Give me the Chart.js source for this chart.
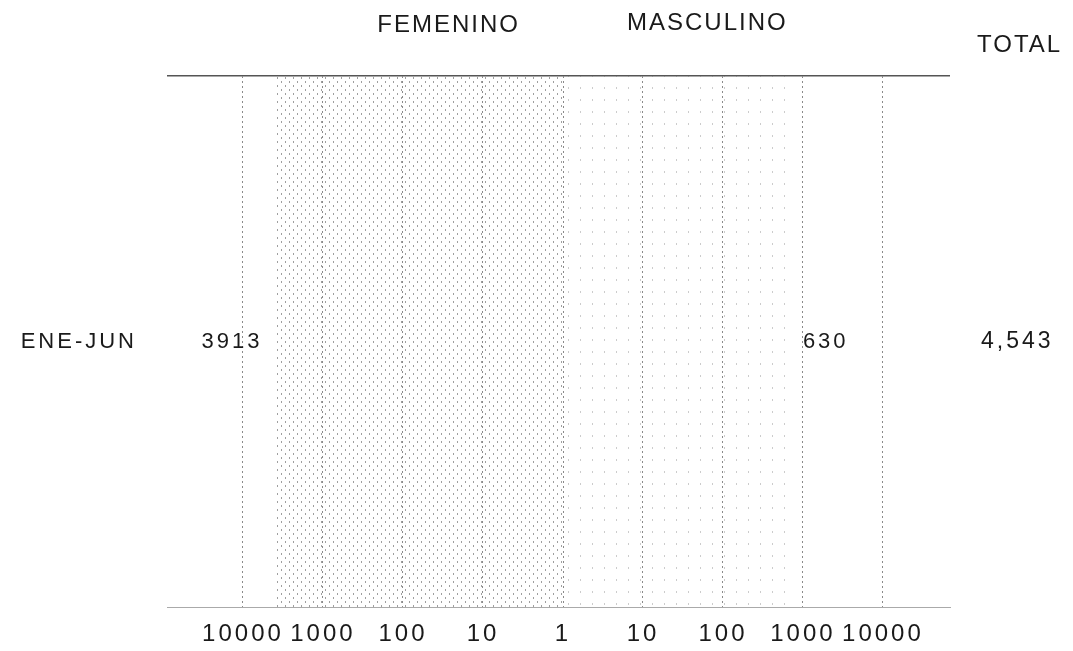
<!DOCTYPE html>
<html>
<head>
<meta charset="utf-8">
<title>ENE-JUN</title>
<script src="https://cdn.jsdelivr.net/npm/chart.js@4.4.1/dist/chart.umd.min.js"></script>
<style>
    html, body { margin: 0; padding: 0; background: #fff; }
    #wrap { position: relative; width: 1073px; height: 651px; }
</style>
</head>
<body>
<div id="wrap"><canvas id="myChart"></canvas></div>
<script>
const categories = ['ENE-JUN'];
const femenino = [3913];
const masculino = [630];
const totals = [4543];
const seriesNames = ['FEMENINO', 'MASCULINO'];
const totalTitle = 'TOTAL';
const leftTicks = [1, 10, 100, 1000, 10000];
const rightTicks = [10, 100, 1000, 10000];

const FONT = '"Liberation Sans", Arial, sans-serif';
const INK = '#1a1a1a';

// stipple fill, the scanned bars are just scattered dots
const makeDots = function (size, dots, color) {
    const c = document.createElement('canvas');
    c.width = size;
    c.height = size;
    const p = c.getContext('2d');
    p.fillStyle = color;
    dots.forEach(function (d) { p.fillRect(d[0], d[1], 1, 2); });
    return p.createPattern(c, 'repeat');
};

const femFill = makeDots(8, [[1, 1], [5, 5]], 'rgba(80,80,80,0.55)');
const mascFill = makeDots(12, [[4, 3]], 'rgba(110,110,110,0.35)');

const textSpacing = {
    id: 'textSpacing',
    beforeDraw: function (chart) {
        chart.ctx.letterSpacing = '3px';
    }
};

const valueLabels = {
    id: 'valueLabels',
    afterDatasetsDraw: function (chart) {
        const ctx = chart.ctx;
        ctx.save();
        ctx.letterSpacing = '3px';
        ctx.font = '22px ' + FONT;
        ctx.fillStyle = INK;
        ctx.textBaseline = 'middle';
        chart.data.datasets.forEach(function (ds, i) {
            chart.getDatasetMeta(i).data.forEach(function (bar, j) {
                const toLeft = bar.x < bar.base;
                ctx.textAlign = toLeft ? 'right' : 'left';
                ctx.fillText(String(ds.data[j]), bar.x + (toLeft ? -13 : 16), bar.y);
            });
        });
        ctx.restore();
    }
};

const headers = {
    id: 'headers',
    afterDraw: function (chart) {
        const ctx = chart.ctx;
        const mid = chart.scales.xF.right;
        ctx.save();
        ctx.letterSpacing = '2px';
        ctx.font = '24px ' + FONT;
        ctx.fillStyle = INK;
        ctx.textBaseline = 'middle';
        ctx.textAlign = 'right';
        ctx.fillText(chart.data.datasets[0].label, mid - 43, 25);
        ctx.textAlign = 'left';
        ctx.fillText(chart.data.datasets[1].label, mid + 64, 23);
        ctx.fillText(totalTitle, chart.scales.yT.left + 27, 45);
        ctx.restore();
    }
};

const xTickFont = { family: FONT, size: 24 };

const ctx = document.getElementById('myChart').getContext('2d');
new Chart(ctx, {
    type: 'bar',
    data: {
        labels: categories,
        datasets: [{
            label: seriesNames[0],
            data: femenino,
            xAxisID: 'xF',
            backgroundColor: femFill,
            borderWidth: 0,
            grouped: false,
            categoryPercentage: 1,
            barPercentage: 1
        }, {
            label: seriesNames[1],
            data: masculino,
            xAxisID: 'xM',
            backgroundColor: mascFill,
            borderWidth: 0,
            grouped: false,
            categoryPercentage: 1,
            barPercentage: 1
        }]
    },
    options: {
        indexAxis: 'y',
        responsive: true,
        maintainAspectRatio: false,
        animation: false,
        layout: { padding: { top: 76, bottom: -6 } },
        plugins: {
            legend: { display: false },
            tooltip: { enabled: false },
            title: { display: false }
        },
        scales: {
            y: {
                type: 'category',
                position: 'left',
                grid: {
                    offset: true,
                    drawTicks: false,
                    color: function (c) { return c.index === 0 ? '#555' : '#aaa'; },
                    lineWidth: function (c) { return c.index === 0 ? 1.5 : 1; }
                },
                border: { display: false },
                ticks: { font: { family: FONT, size: 22 }, color: INK, padding: 30 },
                afterFit: function (s) { s.width = 167; }
            },
            yT: {
                type: 'category',
                labels: totals.map(function (v) { return v.toLocaleString('en-US'); }),
                position: 'right',
                grid: { display: false },
                border: { display: false },
                ticks: { font: { family: FONT, size: 23 }, color: INK, padding: 23 },
                afterFit: function (s) { s.width = 123; }
            },
            xF: {
                type: 'logarithmic',
                position: 'bottom',
                stack: 'x',
                stackWeight: 396,
                reverse: true,
                min: 1,
                max: 89000,
                afterBuildTicks: function (s) {
                    s.ticks = leftTicks.map(function (v) { return { value: v }; });
                },
                ticks: {
                    font: xTickFont, color: INK, padding: 12, autoSkip: false, maxRotation: 0,
                    callback: function (v) { return String(v); }
                },
                grid: { color: '#8a8a8a', drawTicks: false },
                border: { color: '#aaa', dash: [2, 3] },
                afterFit: function (s) { s.height = 38; }
            },
            xM: {
                type: 'logarithmic',
                position: 'bottom',
                stack: 'x',
                stackWeight: 387,
                min: 1,
                max: 69000,
                afterBuildTicks: function (s) {
                    s.ticks = rightTicks.map(function (v) { return { value: v }; });
                },
                ticks: {
                    font: xTickFont, color: INK, padding: 12, autoSkip: false, maxRotation: 0,
                    callback: function (v) { return String(v); }
                },
                grid: { color: '#8a8a8a', drawTicks: false },
                border: { color: '#aaa', dash: [2, 3] },
                afterFit: function (s) { s.height = 38; }
            }
        }
    },
    plugins: [textSpacing, valueLabels, headers]
});
</script>
</body>
</html>
